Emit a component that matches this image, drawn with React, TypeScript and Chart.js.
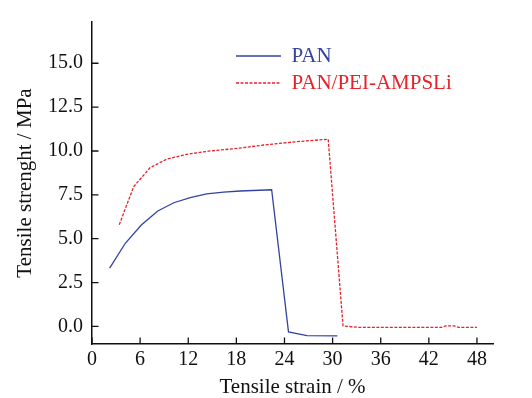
import React, { useEffect, useRef } from "react";
import { Chart, registerables } from "chart.js";

Chart.register(...registerables);

const panStrain = [2.2, 4.15, 6.15, 8.2, 10.2, 12.25, 14.3, 16.4, 18.5, 22.4, 24.5, 26.8, 30.6];
const panStress = [3.32, 4.74, 5.78, 6.58, 7.05, 7.34, 7.55, 7.66, 7.72, 7.79, -0.31, -0.52, -0.54];

const compStrain = [3.4, 5.2, 7.25, 9.3, 11.8, 14.7, 18.2, 21.4, 25.5, 29.45, 31.3, 33.2, 43.6, 44.1, 45.2, 45.7, 48.0];
const compStress = [5.8, 7.97, 9.05, 9.53, 9.81, 10.0, 10.15, 10.34, 10.53, 10.67, 0.03, -0.05, -0.05, 0.03, 0.03, -0.05, -0.05];

const xTicks = [0, 6, 12, 18, 24, 30, 36, 42, 48];
const yTicks = [0, 2.5, 5, 7.5, 10, 12.5, 15];

const seriesNames = ["PAN", "PAN/PEI-AMPSLi"];

const FONT = "'Liberation Serif', 'Times New Roman', serif";
const BLUE = "#3344a0";
const RED = "#e8202a";
const INK = "#111111";

const innerTicks = {
  id: "innerTicks",
  afterDraw(chart: any) {
    const { ctx, chartArea } = chart;
    const xs = chart.scales.x;
    const ys = chart.scales.y;
    ctx.save();
    ctx.strokeStyle = INK;
    ctx.lineWidth = 1.3;
    ctx.beginPath();
    xs.ticks.forEach((t: any) => {
      const px = xs.getPixelForValue(t.value);
      ctx.moveTo(px, chartArea.bottom);
      ctx.lineTo(px, chartArea.bottom - 6.5);
    });
    ys.ticks.forEach((t: any) => {
      const py = ys.getPixelForValue(t.value);
      ctx.moveTo(chartArea.left, py);
      ctx.lineTo(chartArea.left + 6.5, py);
    });
    ctx.stroke();
    ctx.restore();
  },
};

const placeLegend = {
  id: "placeLegend",
  afterLayout(chart: any) {
    const lg = chart.legend;
    if (!lg) return;
    lg.left = 230;
    lg.top = 39.5;
    lg.right = 230 + Math.max(lg.width, 260);
    lg.bottom = 39.5 + 150;
  },
};

export default function App() {
  const ref = useRef<HTMLCanvasElement | null>(null);

  useEffect(() => {
    if (!ref.current) return;
    const chart = new Chart(ref.current, {
      type: "line",
      data: {
        datasets: [
          {
            label: seriesNames[0],
            data: panStrain.map((x, i) => ({ x, y: panStress[i] })),
            borderColor: BLUE,
            backgroundColor: BLUE,
            borderWidth: 1.3,
            pointRadius: 0,
            tension: 0,
            fill: false,
          },
          {
            label: seriesNames[1],
            data: compStrain.map((x, i) => ({ x, y: compStress[i] })),
            borderColor: RED,
            backgroundColor: RED,
            borderWidth: 1.3,
            borderDash: [3, 1.5],
            pointRadius: 0,
            tension: 0,
            fill: false,
          },
        ],
      },
      plugins: [innerTicks, placeLegend],
      options: {
        animation: false,
        responsive: false,
        devicePixelRatio: 1,
        layout: { padding: { left: 0, top: 22, right: 39, bottom: 0 } },
        plugins: {
          tooltip: { enabled: false },
          legend: {
            position: "chartArea" as any,
            align: "start",
            labels: {
              font: { family: FONT, size: 21 },
              usePointStyle: true,
              pointStyle: "line",
              pointStyleWidth: 45,
              padding: 6,
              generateLabels: (ch: any) => {
                const items = Chart.defaults.plugins.legend.labels.generateLabels(ch);
                return items.map((it: any, i: number) => {
                  const ds: any = ch.data.datasets[i];
                  return {
                    ...it,
                    pointStyle: "line",
                    fontColor: ds.borderColor,
                    strokeStyle: ds.borderColor,
                    lineWidth: 1.3,
                    lineDash: ds.borderDash || [],
                  };
                });
              },
            },
          },
        },
        scales: {
          x: {
            type: "linear",
            position: "bottom",
            min: 0,
            max: 50,
            afterBuildTicks: (s: any) => {
              s.ticks = xTicks.map((v) => ({ value: v }));
            },
            afterFit: (s: any) => {
              s.height = 54;
            },
            grid: { display: true, drawOnChartArea: false, drawTicks: false },
            border: { display: true, color: INK, width: 1.5 },
            ticks: {
              color: INK,
              padding: 4,
              maxRotation: 0,
              autoSkip: false,
              font: { family: FONT, size: 20 },
              callback: (v: any) => String(v),
            },
            title: {
              display: true,
              text: "Tensile strain / %",
              color: INK,
              font: { family: FONT, size: 21 },
              padding: { top: 0, bottom: -1.8 },
            },
          },
          y: {
            type: "linear",
            position: "left",
            min: -1,
            max: 17.35,
            afterBuildTicks: (s: any) => {
              s.ticks = yTicks.map((v) => ({ value: v }));
            },
            afterFit: (s: any) => {
              s.width = 92;
            },
            grid: { display: true, drawOnChartArea: false, drawTicks: false },
            border: { display: true, color: INK, width: 1.5 },
            ticks: {
              color: INK,
              padding: 9,
              autoSkip: false,
              font: { family: FONT, size: 20 },
              callback: (v: any) => Number(v).toFixed(1),
            },
            title: {
              display: true,
              text: "Tensile strenght / MPa",
              color: INK,
              font: { family: FONT, size: 21 },
              padding: { top: 12.4, bottom: 0 },
            },
          },
        },
      },
    });
    return () => chart.destroy();
  }, []);

  return (
    <div style={{ position: "absolute", left: 0, top: 0, width: 532, height: 398, background: "#fff" }}>
      <canvas ref={ref} width={532} height={398} style={{ display: "block", width: 532, height: 398 }} />
    </div>
  );
}
